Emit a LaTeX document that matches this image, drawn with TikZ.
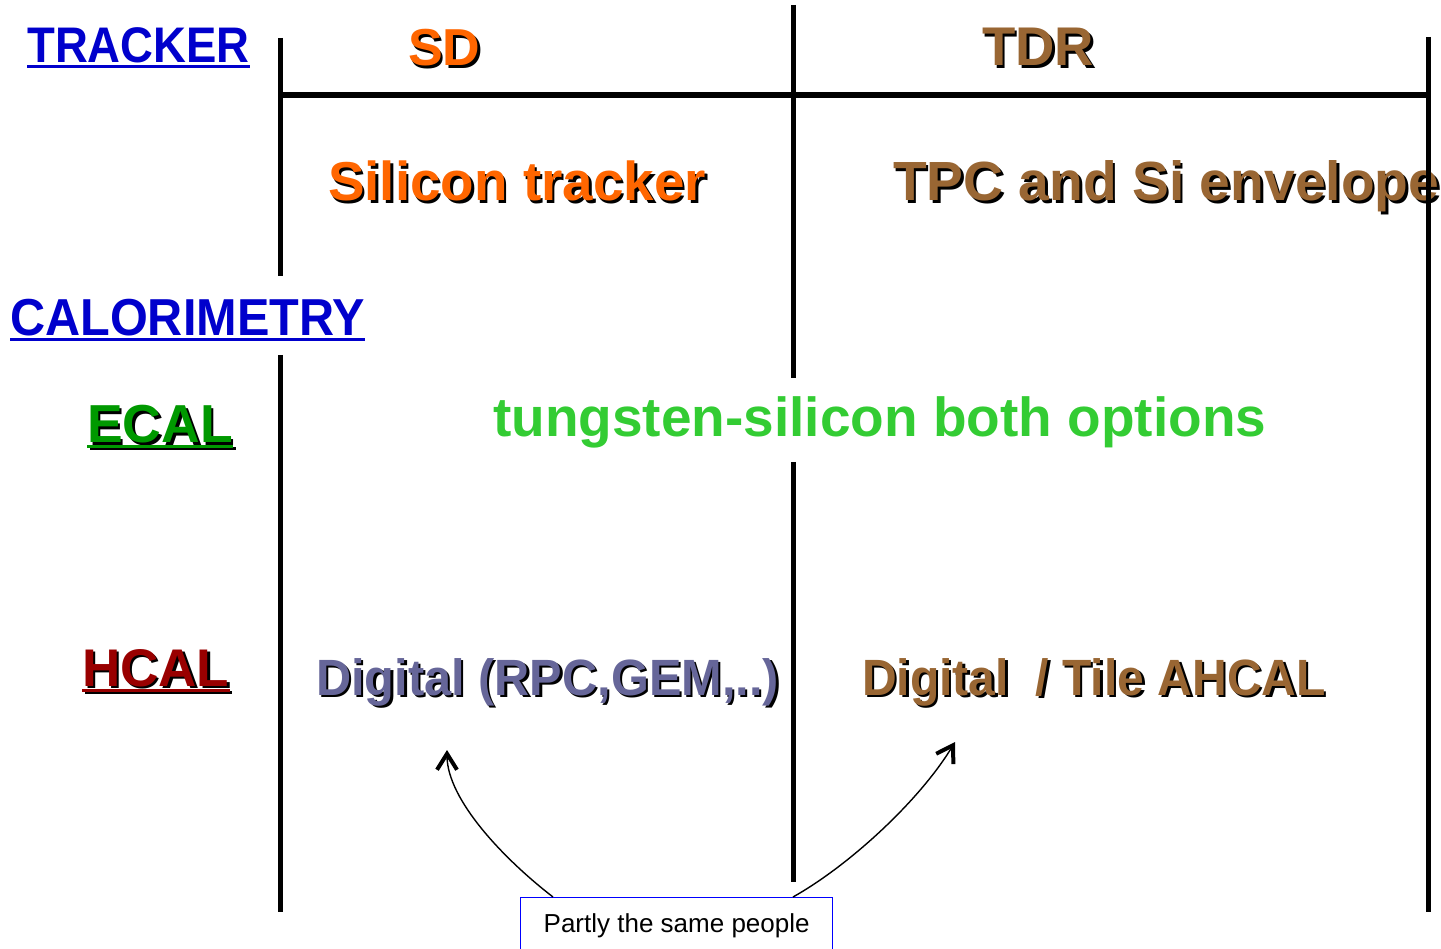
\documentclass[tikz,border=0pt]{standalone}
\usepackage{fontspec}
\setmainfont{Liberation Sans}
\usetikzlibrary{arrows.meta}
\definecolor{cblue}{HTML}{0000CC}
\definecolor{corange}{HTML}{FF6600}
\definecolor{cbrown}{HTML}{996633}
\definecolor{cgreen}{HTML}{009900}
\definecolor{clgreen}{HTML}{33CC33}
\definecolor{cred}{HTML}{990000}
\definecolor{cslate}{HTML}{666699}
\definecolor{cbox}{HTML}{0000FF}
\newcommand\fsz[1]{\fontsize{#1}{#1}\selectfont}
\newcommand\shtext[2]{\rlap{\kern2.5pt\raisebox{-2.5pt}{\color{black}#2}}\textcolor{#1}{#2}}
\begin{document}
\begin{tikzpicture}[x=1pt,y=-1pt,
  lbl/.style={inner sep=0pt,anchor=base west,font=\bfseries},
  rule/.style={line width=5pt},
  uline/.style={line width=3pt},
  conn/.style={line width=1.4pt,-{Straight Barb[length=16pt,width=20pt,line width=4pt]}}]
\useasboundingbox (0,0) rectangle (1441,949);
% labels
\node[lbl] (tracker) at (27,63) {\fsz{50}\scalebox{0.91}[1]{\textcolor{cblue}{TRACKER}}};
\draw[uline,cblue] ([yshift=-3.5pt]tracker.base west) -- ([yshift=-3.5pt]tracker.base east);
\node[lbl] (sd) at (408,66) {\fsz{52}\shtext{corange}{SD}};
\node[lbl] (tdr) at (982,66) {\fsz{54.5}\shtext{cbrown}{TDR}};
\node[lbl] (sitr) at (328,201) {\fsz{54.8}\shtext{corange}{Silicon tracker}};
\node[lbl] (tpc) at (893,201) {\fsz{55.2}\shtext{cbrown}{TPC and Si envelope}};
\node[lbl] (calo) at (10,336) {\fsz{52}\scalebox{0.935}[1]{\textcolor{cblue}{CALORIMETRY}}};
\draw[uline,cblue] ([yshift=-3.5pt]calo.base west) -- ([yshift=-3.5pt]calo.base east);
\node[lbl] (ecal) at (87,443) {\fsz{53.5}\shtext{cgreen}{ECAL}};
\draw[uline,black] ([xshift=2.5pt,yshift=-6pt]ecal.base west) -- ([xshift=2.5pt,yshift=-6pt]ecal.base east);
\draw[uline,cgreen] ([yshift=-4pt]ecal.base west) -- ([yshift=-4pt]ecal.base east);
\node[lbl] (tung) at (493,437) {\fsz{55}\textcolor{clgreen}{tungsten-silicon both options}};
\node[lbl] (hcal) at (82,686) {\fsz{53}\shtext{cred}{HCAL}};
\draw[uline,black] ([xshift=2.5pt,yshift=-6pt]hcal.base west) -- ([xshift=2.5pt,yshift=-6pt]hcal.base east);
\draw[uline,cred] ([yshift=-4pt]hcal.base west) -- ([yshift=-4pt]hcal.base east);
\node[lbl] (dig) at (316,695) {\fsz{51}\scalebox{0.955}[1]{\shtext{cslate}{Digital (RPC,GEM,..)}}};
\node[lbl] (tile) at (862,695) {\fsz{51}\scalebox{0.942}[1]{\shtext{cbrown}{Digital\ \ / Tile AHCAL}}};
% grid lines (drawn over the text)
\draw[rule] (280,38) -- (280,276);
\draw[rule] (280,355) -- (280,912);
\draw[rule] (793,5) -- (793,378);
\draw[rule] (793,462) -- (793,882);
\draw[rule] (1428,37) -- (1428,912);
\draw[line width=6pt] (280,95) -- (1428,95);
% box
\node[draw=cbox,line width=1.3pt,anchor=north west,minimum width=312pt,inner xsep=0pt,inner ysep=0pt,
  text height=35pt,text depth=30pt,font=\fsz{26}] (box) at (520,897) {Partly the same people};
\coordinate (tipL) at (447,750);
\coordinate (tipR) at (955,742);
\draw[conn] ([xshift=33pt]box.north west) .. controls (505,860) and (447,800) .. (tipL);
\draw[conn] ([xshift=273pt]box.north west) .. controls (850,865) and (920,800) .. (tipR);
\end{tikzpicture}
\end{document}
